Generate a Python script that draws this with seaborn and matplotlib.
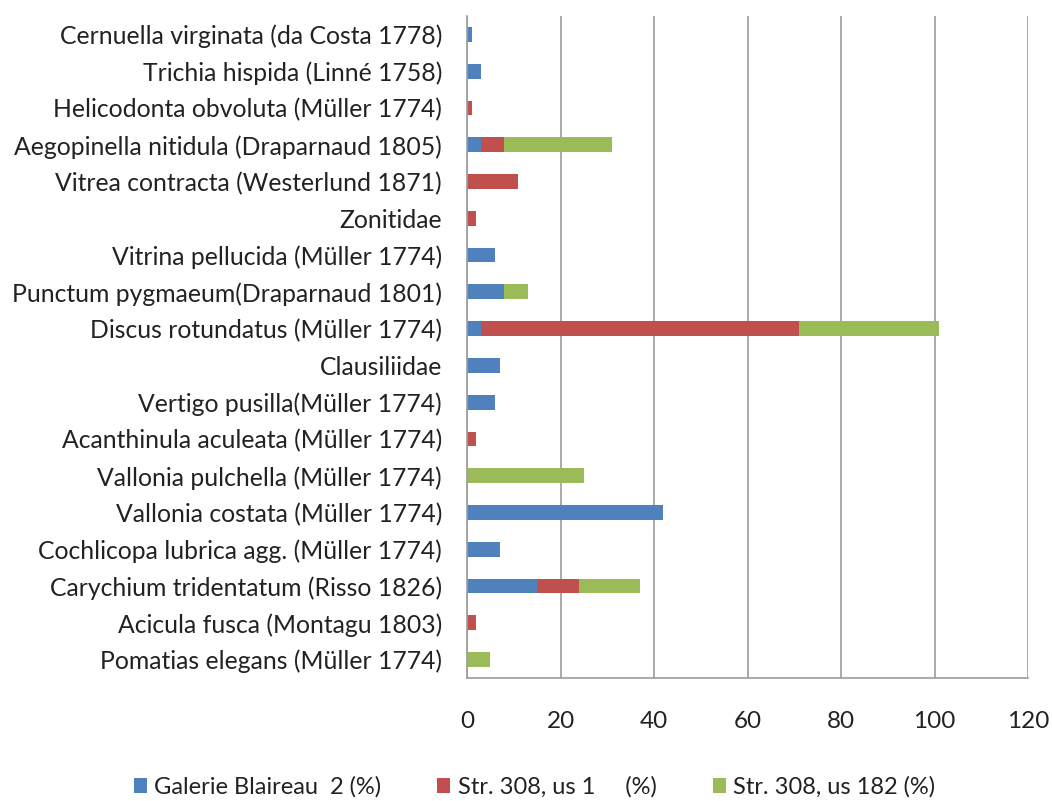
import matplotlib
matplotlib.use("Agg")
import matplotlib.pyplot as plt
import seaborn as sns
import numpy as np
import pandas as pd
from matplotlib.patches import Patch
from matplotlib.ticker import FixedLocator

species = [
    "Cernuella virginata (da Costa 1778)",
    "Trichia hispida (Linné 1758)",
    "Helicodonta obvoluta (Müller 1774)",
    "Aegopinella nitidula (Draparnaud 1805)",
    "Vitrea contracta (Westerlund 1871)",
    "Zonitidae",
    "Vitrina pellucida (Müller 1774)",
    "Punctum pygmaeum(Draparnaud 1801)",
    "Discus rotundatus (Müller 1774)",
    "Clausiliidae",
    "Vertigo pusilla(Müller 1774)",
    "Acanthinula aculeata (Müller 1774)",
    "Vallonia pulchella (Müller 1774)",
    "Vallonia costata (Müller 1774)",
    "Cochlicopa lubrica agg. (Müller 1774)",
    "Carychium tridentatum (Risso 1826)",
    "Acicula fusca (Montagu 1803)",
    "Pomatias elegans (Müller 1774)",
]
galerie = [1, 3, 0, 3, 0, 0, 6, 8, 3, 7, 6, 0, 0, 42, 7, 15, 0, 0]
us1 = [0, 0, 1, 5, 11, 2, 0, 0, 68, 0, 0, 2, 0, 0, 0, 9, 2, 0]
us182 = [0, 0, 0, 23, 0, 0, 0, 5, 30, 0, 0, 0, 25, 0, 0, 13, 0, 5]
series_names = ["Galerie Blaireau  2 (%)", "Str. 308, us 1     (%)", "Str. 308, us 182 (%)"]
x_ticks = [0, 20, 40, 60, 80, 100, 120]

colors = ["#4F81BD", "#C0504D", "#9BBB59"]

sns.set_style("white")
plt.rcParams["font.family"] = ["Lato", "DejaVu Sans"]

df = pd.DataFrame({"species": species, "g": galerie, "u1": us1, "u182": us182})
df["c1"] = df["g"]
df["c2"] = df["g"] + df["u1"]
df["c3"] = df["g"] + df["u1"] + df["u182"]

fig = plt.figure(figsize=(10.52, 8.01), dpi=100)
ax = fig.add_axes([467 / 1052, 1 - 678 / 801, (1028 - 467) / 1052, (678 - 16) / 801])

ax.set_axisbelow(True)
ax.xaxis.grid(True, color="#9C9C9C", linewidth=1.2)
for col, c in zip(["c3", "c2", "c1"], [colors[2], colors[1], colors[0]]):
    sns.barplot(data=df, x=col, y="species", orient="h", color=c, width=0.4,
                saturation=1, ax=ax, linewidth=0, order=species)

ax.set_xlim(0, 120)
ax.set_ylim(len(species) - 0.5, -0.5)
ax.set_xticks(x_ticks)
ax.set_xticklabels([str(t) for t in x_ticks], fontsize=17.5, color="#222222")
ax.set_xlabel("")
ax.set_ylabel("")
ax.tick_params(axis="y", which="major", length=0, pad=18, labelsize=17.8, labelcolor="#222222")
ax.yaxis.set_minor_locator(FixedLocator(np.arange(-0.5, len(species), 1.0)))
ax.tick_params(axis="y", which="minor", length=6, width=1.2, color="#9C9C9C", direction="out")
ax.tick_params(axis="x", which="major", length=6, width=1.2, color="#9C9C9C", direction="out", pad=18)

for s in ["top", "right"]:
    ax.spines[s].set_visible(False)
for s in ["left", "bottom"]:
    ax.spines[s].set_color("#9C9C9C")
    ax.spines[s].set_linewidth(1.2)

handles = [Patch(facecolor=c, edgecolor="none") for c in colors]
fig.legend(handles, series_names, loc="center", bbox_to_anchor=(0.508, 1 - 787 / 801),
           ncol=3, frameon=False, fontsize=17, handlelength=0.55, handleheight=0.55,
           handletextpad=0.3, columnspacing=2.4, labelcolor="#222222")

fig.savefig("out.png", dpi=100)
